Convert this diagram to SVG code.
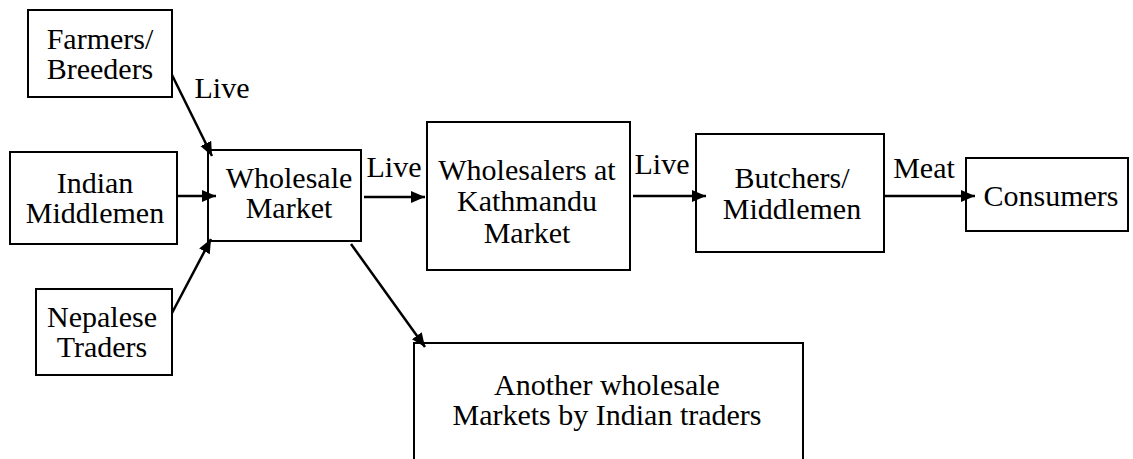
<svg xmlns="http://www.w3.org/2000/svg" width="1133" height="459" viewBox="0 0 1133 459">
  <style>
    .box { fill: #fff; stroke: #000; stroke-width: 2; }
    .lbl { font-family: 'Liberation Serif', 'Times New Roman', Times, serif; font-size: 30px; fill: #000; text-anchor: middle; }
    .edge { stroke: #000; stroke-width: 2.5; fill: none; marker-end: url(#arrow); }
  </style>
  <defs>
    <marker id="arrow" markerUnits="userSpaceOnUse" markerWidth="15" markerHeight="13" refX="14" refY="6" orient="auto">
      <path d="M0,0 L14,6 L0,12 z" fill="#000"/>
    </marker>
  </defs>
  <rect width="1133" height="459" fill="#fff"/>

  <g id="farmers">
    <rect class="box" x="28" y="10" width="144" height="87"/>
    <text class="lbl" x="100" y="49">Farmers/</text>
    <text class="lbl" x="100" y="79">Breeders</text>
  </g>
  <g id="indian-middlemen">
    <rect class="box" x="10" y="152" width="167" height="92"/>
    <text class="lbl" x="95" y="193">Indian</text>
    <text class="lbl" x="95" y="223">Middlemen</text>
  </g>
  <g id="nepalese-traders">
    <rect class="box" x="36" y="289" width="136" height="86"/>
    <text class="lbl" x="102" y="327">Nepalese</text>
    <text class="lbl" x="102" y="357">Traders</text>
  </g>
  <g id="wholesale-market">
    <rect class="box" x="208" y="150" width="153" height="91"/>
    <text class="lbl" x="289" y="188">Wholesale</text>
    <text class="lbl" x="289" y="218">Market</text>
  </g>
  <g id="kathmandu-wholesalers">
    <rect class="box" x="427" y="122" width="203" height="148"/>
    <text class="lbl" x="527" y="180">Wholesalers at</text>
    <text class="lbl" x="527" y="211">Kathmandu</text>
    <text class="lbl" x="527" y="243">Market</text>
  </g>
  <g id="butchers">
    <rect class="box" x="696" y="134" width="188" height="118"/>
    <text class="lbl" x="792" y="188">Butchers/</text>
    <text class="lbl" x="792" y="219">Middlemen</text>
  </g>
  <g id="consumers">
    <rect class="box" x="966" y="158" width="162" height="73"/>
    <text class="lbl" x="1051" y="206">Consumers</text>
  </g>
  <g id="other-markets">
    <rect class="box" x="414" y="343" width="389" height="130"/>
    <text class="lbl" x="607" y="395">Another wholesale</text>
    <text class="lbl" x="607" y="425">Markets by Indian traders</text>
  </g>

  <g id="connectors">
    <line class="edge" x1="172" y1="75" x2="212" y2="156"/>
    <line class="edge" x1="177" y1="196" x2="216" y2="196"/>
    <line class="edge" x1="172" y1="313" x2="211" y2="239"/>
    <line class="edge" x1="364" y1="197" x2="425" y2="197"/>
    <line class="edge" x1="633" y1="196" x2="706" y2="196"/>
    <line class="edge" x1="884" y1="196" x2="975" y2="196"/>
    <line class="edge" x1="351" y1="244" x2="425" y2="347"/>
    <text class="lbl" x="222" y="98">Live</text>
    <text class="lbl" x="394" y="177">Live</text>
    <text class="lbl" x="662" y="174">Live</text>
    <text class="lbl" x="924" y="178">Meat</text>
  </g>
</svg>
